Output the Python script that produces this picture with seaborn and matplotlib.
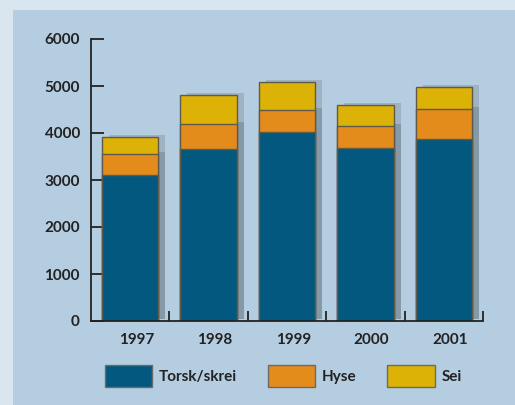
import matplotlib
matplotlib.use("Agg")
import matplotlib.pyplot as plt
import matplotlib.transforms as mtransforms
from matplotlib.patches import Patch, Rectangle
import numpy as np
import pandas as pd
import seaborn as sns

years = ["1997", "1998", "1999", "2000", "2001"]
torsk = [3100, 3660, 4015, 3680, 3880]
hyse = [450, 530, 470, 460, 625]
sei = [360, 625, 610, 450, 465]
series_names = ["Torsk/skrei", "Hyse", "Sei"]
y_ticks = [0, 1000, 2000, 3000, 4000, 5000, 6000]

c_blue = "#02587f"
c_orange = "#e38b1b"
c_yellow = "#dcb206"
c_bg = "#b5cde0"
c_frame = "#d9e5ef"
c_edge = "#5f5a4a"
c_sh_dark = "#8699a6"
c_sh_light = "#a0b3c2"

sns.set_theme(style="white")
plt.rcParams["font.family"] = ["Lato", "DejaVu Sans"]

fig = plt.figure(figsize=(5.15, 4.05), dpi=100)
fig.patch.set_facecolor(c_frame)
fig.add_artist(Rectangle((13 / 515, 0), 1, 1 - 10 / 405, transform=fig.transFigure,
                         facecolor=c_bg, edgecolor="none", zorder=0))

ax = fig.add_axes([91 / 515, 84 / 405, 392 / 515, 282 / 405])
ax.set_facecolor("none")

df = pd.DataFrame({"year": years, "torsk": torsk, "hyse": hyse, "sei": sei})
df["c2"] = df["torsk"] + df["hyse"]
df["c3"] = df["c2"] + df["sei"]

width = 0.72
xs = np.arange(len(years))
shadow_tr = mtransforms.offset_copy(ax.transData, fig=fig, x=7, y=2, units="dots")
ax.bar(xs, df["c3"], width=width, color=c_sh_light, transform=shadow_tr, zorder=1, linewidth=0)
ax.bar(xs, df["c2"], width=width, color=c_sh_dark, transform=shadow_tr, zorder=1, linewidth=0)

for col, color in [("c3", c_yellow), ("c2", c_orange), ("torsk", c_blue)]:
    sns.barplot(data=df, x="year", y=col, color=color, width=width, saturation=1,
                edgecolor=c_edge, linewidth=1, ax=ax, zorder=2)

ax.set_xlim(-0.5, len(years) - 0.5)
ax.set_ylim(0, 6000)
ax.set_xlabel("")
ax.set_ylabel("")

for s in ["top", "right"]:
    ax.spines[s].set_visible(False)
for s in ["left", "bottom"]:
    ax.spines[s].set_color("#222222")
    ax.spines[s].set_linewidth(1.3)

ax.set_yticks(y_ticks)
ax.set_yticklabels([str(v) for v in y_ticks], fontsize=11, fontweight="bold", color="#222222")
ax.tick_params(axis="y", left=True, direction="in", length=9, width=1.3, color="#222222", pad=8)

ax.set_xticks(xs + 0.5)
ax.set_xticklabels([])
ax.set_xticks(xs + 0.08, minor=True)
ax.set_xticklabels(years, minor=True, fontsize=11, fontweight="bold", color="#222222")
ax.tick_params(axis="x", which="major", bottom=True, direction="in", length=7, width=1.3, color="#222222")
ax.tick_params(axis="x", which="minor", bottom=True, length=0, pad=9)

handles = [Patch(facecolor=c, edgecolor="#6a6a6a", linewidth=1) for c in [c_blue, c_orange, c_yellow]]
leg = fig.legend(handles, series_names, loc="center left", bbox_to_anchor=(105 / 515, 1 - 376 / 405),
                 ncol=3, frameon=False, handlelength=3.1, handleheight=1.8, handletextpad=0.45,
                 columnspacing=2.0, borderpad=0, borderaxespad=0,
                 prop={"size": 11, "weight": "bold"})
for t in leg.get_texts():
    t.set_color("#222222")

fig.savefig("out.png", dpi=100, facecolor=fig.get_facecolor())
